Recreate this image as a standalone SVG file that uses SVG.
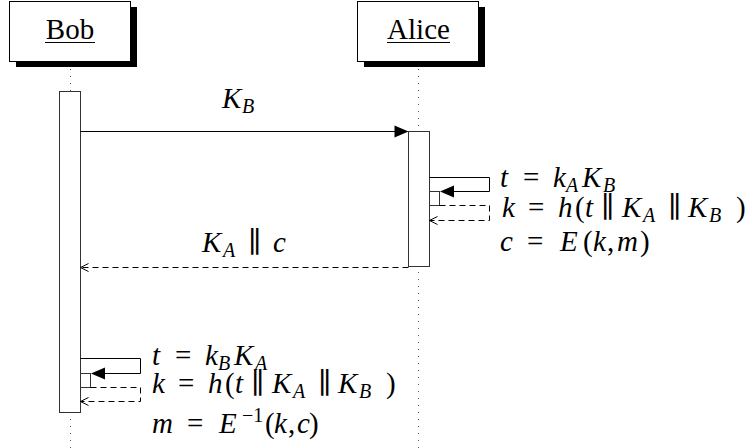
<svg xmlns="http://www.w3.org/2000/svg" width="752" height="448" viewBox="0 0 752 448">
<rect width="752" height="448" fill="#fff"/>
<g id="bob">
<line x1="70.5" y1="62" x2="70.5" y2="448" stroke="#555" stroke-dasharray="1 6"/>
<rect x="16" y="7" width="121" height="60" fill="#000"/>
<rect x="9.5" y="1.5" width="121" height="60" fill="#fff" stroke="#000"/>
<text x="70" y="39" font-family="'Liberation Serif', 'Times New Roman', 'DejaVu Serif', serif" font-size="29" text-anchor="middle" fill="#000">Bob</text>
<line x1="45" y1="42.5" x2="95" y2="42.5" stroke="#000"/>
<rect x="59.5" y="91.5" width="21" height="321" fill="#fff" stroke="#333"/>
<rect x="80.5" y="373.5" width="10" height="14" fill="#fff" stroke="#333"/>
</g>
<g id="alice">
<line x1="418.5" y1="62" x2="418.5" y2="448" stroke="#555" stroke-dasharray="1 6"/>
<rect x="364" y="7" width="121" height="60" fill="#000"/>
<rect x="357.5" y="1.5" width="121" height="60" fill="#fff" stroke="#000"/>
<text x="418.5" y="39" font-family="'Liberation Serif', 'Times New Roman', 'DejaVu Serif', serif" font-size="29" text-anchor="middle" fill="#000">Alice</text>
<line x1="387" y1="42.5" x2="450" y2="42.5" stroke="#000"/>
<rect x="408.5" y="131.5" width="21" height="135" fill="#fff" stroke="#333"/>
<rect x="429.5" y="191.5" width="10" height="14" fill="#fff" stroke="#333"/>
</g>
<g id="connectors">
<g fill="none" stroke="#000" stroke-width="1">
<line x1="80.5" y1="131.5" x2="396" y2="131.5"/>
<path d="M429.5,177.5 H489.5 V191.5 H452"/>
<path d="M80.5,358.5 H140.5 V373.5 H103"/>
<g stroke-dasharray="6 4">
<path d="M439.5,205.5 H489.5 V220.5 H430"/>
<line x1="408.5" y1="267.5" x2="81" y2="267.5"/>
<path d="M90.5,387.5 H140.5 V401.5 H81"/>
</g>
<polyline points="437.5,216.5 429.5,220.5 437.5,224.5"/>
<polyline points="88.5,263.5 80.5,267.5 88.5,271.5"/>
<polyline points="88.5,397.5 80.5,401.5 88.5,405.5"/>
</g>
<g fill="#000">
<polygon points="394.5,125.5 408.5,131.5 394.5,137.5"/>
<polygon points="454,185.5 440,191.5 454,197.5"/>
<polygon points="105,367.5 91,373.5 105,379.5"/>
</g>
</g>
<g id="labels" font-family="'Liberation Serif', 'Times New Roman', 'DejaVu Serif', serif" font-size="29" fill="#000">
<text><tspan font-style="italic" x="222" y="108">K</tspan><tspan font-style="italic" font-size="20" x="242" y="113">B</tspan></text>
<text><tspan font-style="italic" x="202" y="252">K</tspan><tspan font-style="italic" font-size="20" x="223" y="257">A</tspan><tspan x="248" y="252">∥</tspan><tspan font-style="italic" x="273" y="252">c</tspan></text>
<text><tspan font-style="italic" x="500" y="187">t</tspan><tspan x="523" y="187">=</tspan><tspan font-style="italic" x="553" y="187">k</tspan><tspan font-style="italic" font-size="20" x="566" y="192">A</tspan><tspan font-style="italic" x="582" y="187">K</tspan><tspan font-style="italic" font-size="20" x="603" y="192">B</tspan></text>
<text><tspan font-style="italic" x="502" y="217">k</tspan><tspan x="528" y="217">=</tspan><tspan font-style="italic" x="558" y="217">h</tspan><tspan x="575" y="217">(</tspan><tspan font-style="italic" x="585" y="217">t</tspan><tspan x="601" y="217">∥</tspan><tspan font-style="italic" x="622" y="217">K</tspan><tspan font-style="italic" font-size="20" x="643" y="222">A</tspan><tspan x="668" y="217">∥</tspan><tspan font-style="italic" x="688" y="217">K</tspan><tspan font-style="italic" font-size="20" x="709" y="222">B</tspan><tspan x="736" y="217">)</tspan></text>
<text><tspan font-style="italic" x="500" y="251">c</tspan><tspan x="527" y="251">=</tspan><tspan font-style="italic" x="560" y="251">E</tspan><tspan x="583" y="251">(</tspan><tspan font-style="italic" x="593" y="251">k</tspan><tspan x="607" y="251">,</tspan><tspan font-style="italic" x="617" y="251">m</tspan><tspan x="640" y="251">)</tspan></text>
<text><tspan font-style="italic" x="152" y="365">t</tspan><tspan x="175" y="365">=</tspan><tspan font-style="italic" x="205" y="365">k</tspan><tspan font-style="italic" font-size="20" x="218" y="370">B</tspan><tspan font-style="italic" x="234" y="365">K</tspan><tspan font-style="italic" font-size="20" x="255" y="370">A</tspan></text>
<text><tspan font-style="italic" x="152" y="393">k</tspan><tspan x="178" y="393">=</tspan><tspan font-style="italic" x="208" y="393">h</tspan><tspan x="225" y="393">(</tspan><tspan font-style="italic" x="235" y="393">t</tspan><tspan x="251" y="393">∥</tspan><tspan font-style="italic" x="272" y="393">K</tspan><tspan font-style="italic" font-size="20" x="293" y="398">A</tspan><tspan x="318" y="393">∥</tspan><tspan font-style="italic" x="338" y="393">K</tspan><tspan font-style="italic" font-size="20" x="359" y="398">B</tspan><tspan x="386" y="393">)</tspan></text>
<text><tspan font-style="italic" x="152" y="433">m</tspan><tspan x="187" y="433">=</tspan><tspan font-style="italic" x="219" y="433">E</tspan><tspan font-size="20" x="242" y="422">−1</tspan><tspan x="265" y="433">(</tspan><tspan font-style="italic" x="274" y="433">k</tspan><tspan x="288" y="433">,</tspan><tspan font-style="italic" x="297" y="433">c</tspan><tspan x="309" y="433">)</tspan></text>
</g>
</svg>
